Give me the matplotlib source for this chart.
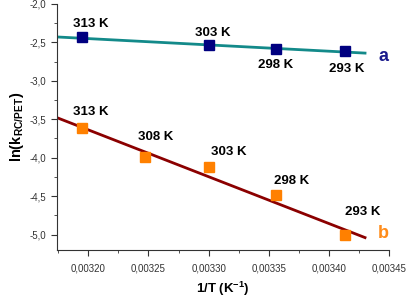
import matplotlib
matplotlib.use("Agg")
import matplotlib.pyplot as plt
from matplotlib.ticker import MultipleLocator, FuncFormatter

plt.rcParams['font.family'] = ['Liberation Sans', 'DejaVu Sans']
plt.rcParams['mathtext.fontset'] = 'custom'
plt.rcParams['mathtext.bf'] = 'Liberation Sans:bold'
plt.rcParams['mathtext.rm'] = 'Liberation Sans'

## DATA
temps_a = [313, 303, 298, 293]
lnk_a = [-2.43, -2.53, -2.585, -2.61]
temps_b = [313, 308, 303, 298, 293]
lnk_b = [-3.62, -3.99, -4.12, -4.49, -5.01]
# fitted lines (end points)
fit_a_x = [0.003174, 0.00343]
fit_a_y = [-2.43, -2.64]
fit_b_x = [0.003174, 0.00343]
fit_b_y = [-3.48, -5.04]

inv_a = [1.0 / t for t in temps_a]
inv_b = [1.0 / t for t in temps_b]

# label offsets in pixels
off_a = [(9, 13), (4, 12), (0, -16), (2, -18)]
off_b = [(9, 16), (11, 20), (20, 15), (16, 14), (18, 23)]

fig = plt.figure(figsize=(4.1, 3.0), dpi=100)
ax = fig.add_axes([0.139, 0.167, 0.81, 0.82])

ax.plot(fit_a_x, fit_a_y, color='#138a8a', lw=2, zorder=1)
ax.plot(inv_a, lnk_a, 's', color='#000080', ms=6.5, zorder=2)
ax.plot(fit_b_x, fit_b_y, color='#8b0000', lw=2, zorder=1)
ax.plot(inv_b, lnk_b, 's', color='#ff8000', ms=6.5, zorder=2)

for x, y, t, o in zip(inv_a, lnk_a, temps_a, off_a):
    ax.annotate(f"{t} K", (x, y), xytext=o, textcoords='offset pixels',
                ha='center', va='center', fontsize=9.5, fontweight='bold')
for x, y, t, o in zip(inv_b, lnk_b, temps_b, off_b):
    ax.annotate(f"{t} K", (x, y), xytext=o, textcoords='offset pixels',
                ha='center', va='center', fontsize=9.5, fontweight='bold')

ax.text(0.9834, 0.7867, 'a', transform=ax.transAxes, ha='center', va='center',
        fontsize=13, fontweight='bold', color='#1a1a8c')
ax.text(0.9834, 0.0667, 'b', transform=ax.transAxes, ha='center', va='center',
        fontsize=13, fontweight='bold', color='#ff8c1a')

ax.set_xlim(0.003174, 0.00345)
ax.set_ylim(-5.2, -2.0)

ax.xaxis.set_major_locator(MultipleLocator(0.00005))
ax.xaxis.set_minor_locator(MultipleLocator(0.000025))
ax.yaxis.set_major_locator(MultipleLocator(0.5))
ax.yaxis.set_minor_locator(MultipleLocator(0.25))
ax.xaxis.set_major_formatter(FuncFormatter(lambda v, p: f"{v:.5f}".replace('.', ',')))
ax.yaxis.set_major_formatter(FuncFormatter(lambda v, p: f"{v:.1f}".replace('.', ',')))

ax.spines['top'].set_visible(False)
ax.spines['right'].set_visible(False)
for s in ['left', 'bottom']:
    ax.spines[s].set_color('#333333')
ax.tick_params(which='major', length=4, color='#333333', labelsize=7, labelcolor='#333333')
ax.tick_params(which='minor', length=2.5, color='#333333')
ax.tick_params(axis='x', pad=6)

ax.set_xlabel('1/T (K$^{\\mathbf{-1}}$)', fontsize=9.5, fontweight='bold', labelpad=4)
ax.set_ylabel('ln(k$_{\\mathbf{RC/PET}}$)', fontsize=10.5, fontweight='bold', labelpad=3)

fig.savefig('out.png', dpi=100)
